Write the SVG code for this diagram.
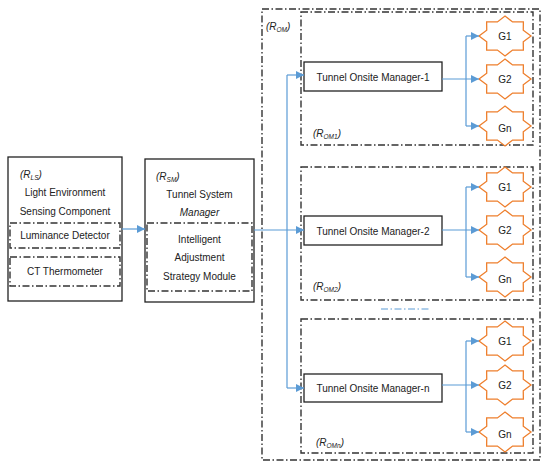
<svg xmlns="http://www.w3.org/2000/svg" xmlns:xlink="http://www.w3.org/1999/xlink" width="550" height="467" viewBox="0 0 550 467">
<style>
text{font-family:"Liberation Sans",Arial,sans-serif;font-size:10px;fill:#222;}
.c{text-anchor:middle;}
.i{font-style:italic;}
.sub{font-size:6.5px;}
.solid{fill:#fff;stroke:#222;stroke-width:1.3;}
.dd{fill:none;stroke:#333;stroke-width:1.4;stroke-dasharray:7 2.5 1.5 2.5;}
.star{fill:#fff;stroke:#EE7F2D;stroke-width:1.3;}
.con{fill:none;stroke:#5B9BD5;stroke-width:1.2;}
</style>
<defs>
<marker id="ah" viewBox="0 0 10 10" refX="10" refY="5" markerWidth="8" markerHeight="8" markerUnits="userSpaceOnUse" orient="auto">
<path d="M0,0 L10,5 L0,10 Z" fill="#5B9BD5"/>
</marker>
<path id="star" d="M26,0 L18.26,5.82 L18.38,14.14 L7.56,14.04 L0,20 L-7.56,14.04 L-18.38,14.14 L-18.26,5.82 L-26,0 L-18.26,-5.82 L-18.38,-14.14 L-7.56,-14.04 L0,-20 L7.56,-14.04 L18.38,-14.14 L18.26,-5.82 Z"/>
</defs>

<!-- outer R_OM -->
<g id="rom">
<rect class="dd" x="262" y="9" width="278" height="451"/>
<text class="i" x="266" y="30">(R<tspan class="sub" dy="1.5">OM</tspan><tspan dy="-1.5">)</tspan></text>
<line x1="381" y1="309" x2="429" y2="309" stroke="#5B9BD5" stroke-width="1" stroke-dasharray="7 2.5 1.5 2.5"/>
</g>

<g id="rom1">
<rect class="dd" x="301" y="12" width="232" height="133"/>
<text class="i" x="313" y="137">(R<tspan class="sub" dy="1.5">OM1</tspan><tspan dy="-1.5">)</tspan></text>
</g>
<g id="rom2">
<rect class="dd" x="301" y="167" width="232" height="133"/>
<text class="i" x="313" y="290">(R<tspan class="sub" dy="1.5">OM2</tspan><tspan dy="-1.5">)</tspan></text>
</g>
<g id="romn">
<rect class="dd" x="301" y="319" width="232" height="134"/>
<text class="i" x="316" y="446">(R<tspan class="sub" dy="1.5">OMn</tspan><tspan dy="-1.5">)</tspan></text>
</g>

<!-- left: R_LS -->
<g id="rls">
<rect class="solid" x="8" y="157" width="114" height="144"/>
<text class="i" x="20" y="178">(R<tspan class="sub" dy="1.5">LS</tspan><tspan dy="-1.5">)</tspan></text>
<text class="c" x="65" y="195.5">Light Environment</text>
<text class="c" x="65" y="214.5">Sensing Component</text>
</g>
<g id="luminance">
<rect class="dd" x="10" y="223" width="110" height="25"/>
<text class="c" x="65" y="239">Luminance Detector</text>
</g>
<g id="ct">
<rect class="dd" x="10" y="257" width="110" height="29"/>
<text class="c" x="65" y="275">CT Thermometer</text>
</g>

<!-- R_SM -->
<g id="rsm">
<rect class="solid" x="145" y="159" width="109" height="143"/>
<text class="i" x="156" y="180">(R<tspan class="sub" dy="1.5">SM</tspan><tspan dy="-1.5">)</tspan></text>
<text class="c" x="199.5" y="197.5">Tunnel System</text>
<text class="c i" x="199.5" y="215.5">Manager</text>
</g>
<g id="strategy">
<rect class="dd" x="147" y="223" width="105" height="68"/>
<text class="c" x="199.5" y="242.5">Intelligent</text>
<text class="c" x="199.5" y="260.5">Adjustment</text>
<text class="c" x="199.5" y="279.5">Strategy Module</text>
</g>

<!-- managers -->
<g id="mgr1">
<rect class="solid" x="304" y="62" width="138" height="29"/>
<text class="c" x="373" y="80.5">Tunnel Onsite Manager-1</text>
</g>
<g id="mgr2">
<rect class="solid" x="304" y="216" width="138" height="29"/>
<text class="c" x="373" y="234.5">Tunnel Onsite Manager-2</text>
</g>
<g id="mgrn">
<rect class="solid" x="304" y="374" width="138" height="28"/>
<text class="c" x="373" y="392">Tunnel Onsite Manager-n</text>
</g>

<!-- stars -->
<g id="g1a"><use xlink:href="#star" class="star" x="505" y="36"/><text class="c" x="505" y="40">G1</text></g>
<g id="g2a"><use xlink:href="#star" class="star" x="505" y="79"/><text class="c" x="505" y="83">G2</text></g>
<g id="gna"><use xlink:href="#star" class="star" x="505" y="126"/><text class="c" x="505" y="132">Gn</text></g>

<g id="g1b"><use xlink:href="#star" class="star" x="505" y="187"/><text class="c" x="505" y="191">G1</text></g>
<g id="g2b"><use xlink:href="#star" class="star" x="505" y="230"/><text class="c" x="505" y="234">G2</text></g>
<g id="gnb"><use xlink:href="#star" class="star" x="505" y="277"/><text class="c" x="505" y="283">Gn</text></g>

<g id="g1c"><use xlink:href="#star" class="star" x="505" y="341"/><text class="c" x="505" y="345">G1</text></g>
<g id="g2c"><use xlink:href="#star" class="star" x="505" y="385"/><text class="c" x="505" y="389">G2</text></g>
<g id="gnc"><use xlink:href="#star" class="star" x="505" y="432"/><text class="c" x="505" y="438">Gn</text></g>

<!-- connectors -->
<g id="connectors">
<line class="con" x1="122" y1="229" x2="145" y2="229" marker-end="url(#ah)"/>
<line class="con" x1="254" y1="230" x2="304" y2="230" marker-end="url(#ah)"/>
<line class="con" x1="287" y1="75" x2="287" y2="388"/>
<line class="con" x1="287" y1="75" x2="304" y2="75" marker-end="url(#ah)"/>
<line class="con" x1="287" y1="388" x2="304" y2="388" marker-end="url(#ah)"/>

<line class="con" x1="442" y1="79" x2="479" y2="79" marker-end="url(#ah)"/>
<path class="con" d="M466,36 V126"/>
<line class="con" x1="466" y1="36" x2="479" y2="36" marker-end="url(#ah)"/>
<line class="con" x1="466" y1="126" x2="479" y2="126" marker-end="url(#ah)"/>

<line class="con" x1="442" y1="230" x2="479" y2="230" marker-end="url(#ah)"/>
<path class="con" d="M466,187 V277"/>
<line class="con" x1="466" y1="187" x2="479" y2="187" marker-end="url(#ah)"/>
<line class="con" x1="466" y1="277" x2="479" y2="277" marker-end="url(#ah)"/>

<line class="con" x1="442" y1="385" x2="479" y2="385" marker-end="url(#ah)"/>
<path class="con" d="M466,341 V432"/>
<line class="con" x1="466" y1="341" x2="479" y2="341" marker-end="url(#ah)"/>
<line class="con" x1="466" y1="432" x2="479" y2="432" marker-end="url(#ah)"/>
</g>
</svg>
